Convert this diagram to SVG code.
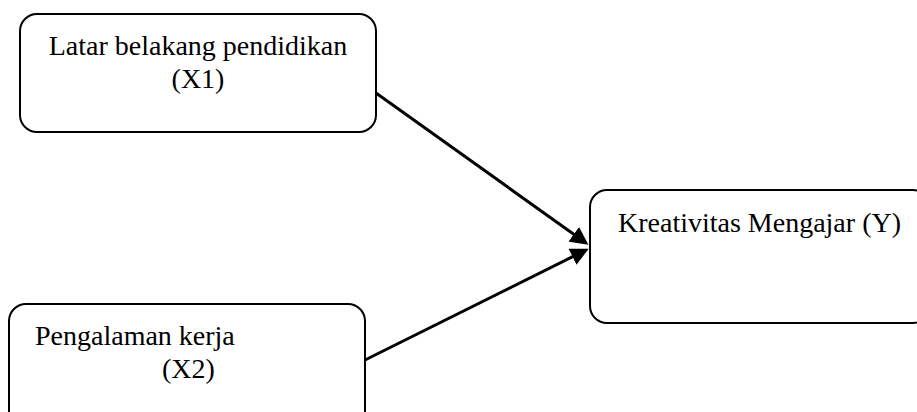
<svg xmlns="http://www.w3.org/2000/svg" width="917" height="412" viewBox="0 0 917 412">
<style>
.box{fill:#fff;stroke:#000;stroke-width:2}
.t{font-family:"Liberation Serif","Times New Roman",serif;font-size:28px;fill:#000}
.c{stroke:#000;stroke-width:3;fill:none}
</style>
<defs>
<marker id="ah" markerWidth="6" markerHeight="6" refX="5" refY="3" orient="auto" markerUnits="strokeWidth">
<path d="M0,0 L6,3 L0,6 Z" fill="#000"/>
</marker>
</defs>
<rect width="917" height="412" fill="#fff"/>
<g id="x1">
<rect class="box" x="20" y="14" width="356" height="118" rx="17"/>
<text class="t" x="198" y="55" text-anchor="middle">Latar belakang pendidikan</text>
<text class="t" x="198" y="88" text-anchor="middle">(X1)</text>
</g>
<g id="x2">
<rect class="box" x="9" y="304" width="356" height="130" rx="17"/>
<text class="t" x="35" y="345">Pengalaman kerja</text>
<text class="t" x="162" y="378">(X2)</text>
</g>
<g id="y">
<rect class="box" x="590" y="190" width="340" height="133" rx="17"/>
<text class="t" x="618" y="232">Kreativitas Mengajar (Y)</text>
</g>
<g id="connectors">
<line class="c" x1="376" y1="93" x2="586" y2="243" marker-end="url(#ah)"/>
<line class="c" x1="365" y1="360" x2="586" y2="250" marker-end="url(#ah)"/>
</g>
</svg>
